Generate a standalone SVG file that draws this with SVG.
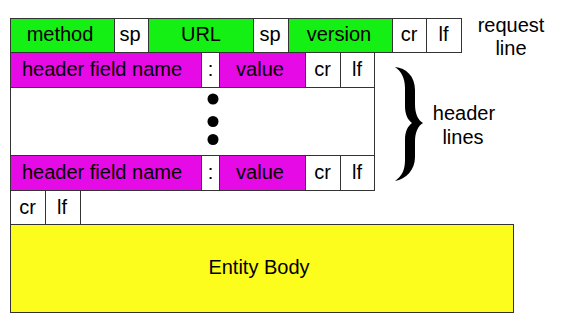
<svg xmlns="http://www.w3.org/2000/svg" width="565" height="331" viewBox="0 0 565 331">
<style>
  rect { stroke: #333; stroke-width: 1; }
  rect.bg { fill: #fff; stroke: none; }
  .g { fill: #14f014; }
  .m { fill: #e60ae6; }
  .w { fill: #ffffff; }
  .y { fill: #fdfd1d; }
  text { font-family: "Liberation Sans", Arial, sans-serif; font-size: 20px; fill: #000; text-anchor: middle; }
  .dot { fill: #000; }
</style>
<rect class="bg" x="0" y="0" width="565" height="331"/>

<g id="request-line">
  <g id="rl-method"><rect class="g" x="10.5" y="18.5" width="104" height="34"/><text x="60" y="41">method</text></g>
  <g id="rl-sp1"><rect class="w" x="114.5" y="18.5" width="34" height="34"/><text x="130" y="41">sp</text></g>
  <g id="rl-url"><rect class="g" x="148.5" y="18.5" width="105" height="34"/><text x="201" y="41">URL</text></g>
  <g id="rl-sp2"><rect class="w" x="253.5" y="18.5" width="35" height="34"/><text x="270" y="41">sp</text></g>
  <g id="rl-version"><rect class="g" x="288.5" y="18.5" width="104" height="34"/><text x="339" y="41">version</text></g>
  <g id="rl-cr"><rect class="w" x="392.5" y="18.5" width="34" height="34"/><text x="409" y="41">cr</text></g>
  <g id="rl-lf"><rect class="w" x="426.5" y="18.5" width="35" height="34"/><text x="443.5" y="41">lf</text></g>
</g>

<g id="header-area"><rect class="w" x="10.5" y="87.5" width="364" height="68"/></g>

<g id="header-1">
  <g id="h1-name"><rect class="m" x="10.5" y="52.5" width="191" height="35"/><text x="102" y="76">header field name</text></g>
  <g id="h1-colon"><rect class="w" x="201.5" y="52.5" width="18" height="35"/><text x="210.5" y="76">:</text></g>
  <g id="h1-value"><rect class="m" x="219.5" y="52.5" width="86" height="35"/><text x="260" y="76">value</text></g>
  <g id="h1-cr"><rect class="w" x="305.5" y="52.5" width="35" height="35"/><text x="322.5" y="76">cr</text></g>
  <g id="h1-lf"><rect class="w" x="340.5" y="52.5" width="34" height="35"/><text x="357" y="76">lf</text></g>
</g>

<g id="ellipsis">
  <circle class="dot" cx="213" cy="99" r="5.5"/>
  <circle class="dot" cx="213" cy="121.5" r="5.5"/>
  <circle class="dot" cx="213" cy="139.5" r="5.5"/>
</g>

<g id="header-n">
  <g id="hn-name"><rect class="m" x="10.5" y="155.5" width="191" height="35"/><text x="102" y="179">header field name</text></g>
  <g id="hn-colon"><rect class="w" x="201.5" y="155.5" width="18" height="35"/><text x="210.5" y="179">:</text></g>
  <g id="hn-value"><rect class="m" x="219.5" y="155.5" width="86" height="35"/><text x="260" y="179">value</text></g>
  <g id="hn-cr"><rect class="w" x="305.5" y="155.5" width="35" height="35"/><text x="322.5" y="179">cr</text></g>
  <g id="hn-lf"><rect class="w" x="340.5" y="155.5" width="34" height="35"/><text x="357" y="179">lf</text></g>
</g>

<g id="blank-line">
  <g id="bl-cr"><rect class="w" x="10.5" y="190.5" width="35" height="34"/><text x="27.5" y="213.5">cr</text></g>
  <g id="bl-lf"><rect class="w" x="45.5" y="190.5" width="35" height="34"/><text x="62" y="213.5">lf</text></g>
</g>

<g id="entity-body"><rect class="y" x="10.5" y="224.5" width="503" height="88"/><text x="259" y="274">Entity Body</text></g>

<g id="label-request-line"><text x="511" y="31.5">request</text><text x="511" y="55">line</text></g>

<g id="brace">
  <path fill="#000" d="M395,67 C406,68 415,76 415,90 L415,104 C415,114 418,120 423,123 C418,126 415,132 415,142 L415,157 C415,170 406,179 395,181 C402,176 405,170 405,160 L405,140 C405,131 408,126 412,123 C408,120 405,115 405,106 L405,88 C405,78 401,71 395,67 Z"/>
</g>

<g id="label-header-lines"><text x="464" y="120">header</text><text x="463" y="143.5">lines</text></g>

<g id="connectors"></g>
</svg>
